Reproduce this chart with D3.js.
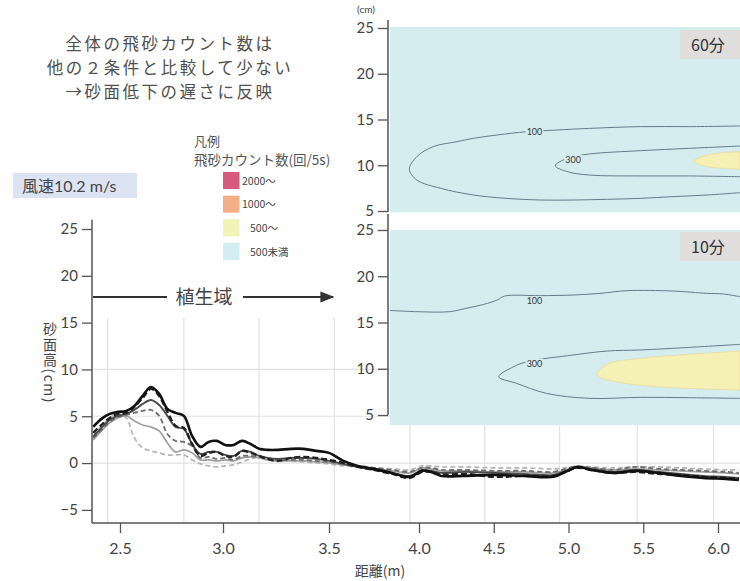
<!DOCTYPE html>
<html><head><meta charset="utf-8">
<script src="https://cdn.jsdelivr.net/npm/d3@7"></script>
<style>
body{margin:0;background:#fff}
svg{display:block}
text{font-family:Lato,"Noto Sans CJK JP",sans-serif}
.cjk{font-family:"Noto Sans CJK JP",sans-serif}
</style></head><body>
<svg id="c" width="740" height="581"></svg>
<script>
// ---------- DATA ----------
const distance = [2.37,2.41,2.45,2.49,2.53,2.57,2.61,2.65,2.69,2.73,2.77,2.81,2.85,2.89,2.93,2.97,3.01,3.05,3.09,3.13,3.17,3.21,3.26,3.32,3.38,3.44,3.50,3.58,3.66,3.75,3.85,3.95,4.02,4.08,4.15,4.30,4.50,4.70,4.90,4.98,5.06,5.15,5.30,5.45,5.60,5.75,5.90,6.05,6.14];
const profileA = [3.87,4.72,5.25,5.47,5.57,6.11,7.17,8.13,7.39,5.79,5.36,5.04,2.90,1.73,2.26,2.37,1.94,1.94,2.37,2.04,1.52,1.41,1.41,1.52,1.52,1.30,1.09,0.23,-0.30,-0.62,-1.05,-1.47,-0.83,-0.94,-1.37,-1.37,-1.26,-1.37,-1.47,-0.94,-0.41,-0.73,-1.05,-0.83,-1.05,-1.37,-1.58,-1.69,-1.79];
const profileB = [3.22,4.07,4.82,5.25,5.36,6.00,6.96,7.92,7.17,5.47,3.97,3.75,2.04,0.77,1.09,1.19,0.77,0.66,1.30,1.09,0.77,0.45,0.23,0.55,0.66,0.55,0.34,0.02,-0.41,-0.73,-1.15,-1.58,-0.94,-0.94,-1.26,-1.15,-1.47,-1.37,-1.37,-0.94,-0.51,-0.73,-1.05,-0.94,-1.15,-1.26,-1.47,-1.58,-1.69];
const profileC = [2.80,3.75,4.61,5.04,5.25,5.68,6.32,6.74,6.21,5.04,3.86,3.65,2.04,0.98,1.19,1.19,0.87,0.77,1.30,1.19,0.77,0.55,0.45,0.55,0.55,0.45,0.23,-0.09,-0.41,-0.73,-1.05,-1.37,-0.73,-0.83,-1.05,-0.94,-1.05,-1.15,-1.26,-0.83,-0.41,-0.62,-0.94,-0.73,-0.94,-1.15,-1.37,-1.47,-1.58];
const profileD = [2.69,3.54,4.40,4.93,5.14,5.36,5.57,5.68,5.04,3.11,2.37,2.26,1.83,0.55,0.66,0.45,0.55,0.34,0.76,0.76,0.66,0.45,0.34,0.34,0.34,0.23,0.13,-0.09,-0.30,-0.51,-0.73,-0.94,-0.51,-0.51,-0.73,-0.73,-0.83,-0.83,-0.94,-0.62,-0.41,-0.51,-0.73,-0.41,-0.62,-0.73,-0.83,-0.94,-1.05];
const profileE = [2.47,3.44,4.29,4.82,5.04,4.50,4.07,3.86,3.44,2.15,1.19,1.41,1.09,0.34,0.34,0.23,0.34,0.23,0.55,0.66,0.55,0.34,0.23,0.23,0.23,0.13,0.02,-0.20,-0.41,-0.62,-0.83,-1.05,-0.51,-0.62,-0.83,-0.83,-0.94,-0.94,-1.05,-0.73,-0.41,-0.51,-0.73,-0.62,-0.73,-0.83,-0.94,-1.05,-1.15];
const profileF = [2.90,3.97,4.82,5.25,4.82,2.69,1.62,1.30,1.09,0.87,0.87,0.87,0.34,-0.09,-0.30,-0.41,-0.30,-0.20,0.13,0.45,0.66,0.55,0.34,0.23,0.13,0.02,-0.09,-0.30,-0.41,-0.51,-0.62,-0.73,-0.30,-0.30,-0.41,-0.41,-0.51,-0.51,-0.62,-0.51,-0.30,-0.41,-0.51,-0.41,-0.41,-0.51,-0.62,-0.73,-0.73];

const xTicks = [2.5,3.0,3.5,4.0,4.5,5.0,5.5,6.0];
const yTicks = [-5,0,5,10,15,20,25];
const gridX = [2.44,2.81,3.17,3.53,3.95,4.44,4.94,5.46,5.97];
const gridY = [0,5,10];
const insetTicks = [5,10,15,20,25];

// contour lines of sand count (distance m, height cm)
const top100 = [[6.20,14.29],[5.86,14.22],[5.53,14.22],[5.19,14.03],[4.97,13.85],[4.77,13.67],[4.57,13.31],[4.41,12.94],[4.30,12.58],[4.14,12.03],[4.03,10.94],[3.98,9.55],[4.03,8.39],[4.19,7.48],[4.41,6.75],[4.63,6.38],[4.86,6.20],[5.08,6.20],[5.31,6.28],[5.53,6.38],[5.75,6.57],[5.98,6.75],[6.20,7.00]];
const top300 = [[6.20,12.10],[5.86,11.85],[5.53,11.59],[5.19,11.23],[5.04,10.76],[4.96,9.95],[5.04,9.30],[5.19,8.93],[5.53,8.83],[5.86,8.83],[6.20,8.75]];
const top500 = [[6.20,11.48],[6.09,11.38],[5.98,11.12],[5.89,10.46],[5.98,9.85],[6.09,9.66],[6.20,9.55]];
const bot100 = [[3.80,16.35],[4.03,16.17],[4.25,16.17],[4.36,16.53],[4.48,16.96],[4.57,17.43],[4.62,17.86],[4.86,17.90],[5.08,17.97],[5.26,18.15],[5.44,18.44],[5.75,18.40],[5.98,18.15],[6.09,18.08],[6.20,17.79]];
const bot300 = [[6.20,12.64],[5.86,12.31],[5.53,12.03],[5.31,11.92],[5.08,11.49],[4.77,10.76],[4.68,10.22],[4.58,9.14],[4.70,8.42],[4.90,7.34],[5.19,6.80],[5.53,6.91],[5.86,6.87],[6.20,6.80]];
const bot500 = [[6.20,11.92],[5.86,11.56],[5.53,11.12],[5.31,10.51],[5.24,9.32],[5.37,8.60],[5.64,8.06],[6.20,7.70]];
const topLabels = [{m:4.82,cm:13.62,t:"100"},{m:5.08,cm:10.62,t:"300"}];
const botLabels = [{m:4.82,cm:17.3,t:"100"},{m:4.82,cm:10.55,t:"300"}];

const legendLabels = ["2000〜","1000〜","500〜","500未満"];
const legendColors = ["#d75a7e","#f3b087","#f0f4b6","#d3eef2"];

// ---------- SCALES ----------
const svg = d3.select("#c");
const x = d3.scaleLinear().domain([2.5,3.0,3.5,4.0,6.0]).range([120,223,329,419,718]);
const y = d3.scaleLinear().domain([-6.4,25]).range([523,229]);
const xi = d3.scaleLinear().domain([3.85,6.2]).range([390,740]);
const yTop = d3.scaleLinear().domain([5,25]).range([211,28]);
const yBot = d3.scaleLinear().domain([5,25]).range([415,230]);

// ---------- MAIN CHART ----------
const gGrid = svg.append("g");
gGrid.selectAll("line.gx").data(gridX).join("line")
  .attr("x1",d=>x(d)).attr("x2",d=>x(d)).attr("y1",y(15.5)).attr("y2",y(-6.4))
  .attr("stroke","#e2e2e2").attr("stroke-width",1.2);
gGrid.selectAll("line.gy").data(gridY).join("line")
  .attr("x1",x(2.37)).attr("x2",740).attr("y1",d=>y(d)).attr("y2",d=>y(d))
  .attr("stroke","#e2e2e2").attr("stroke-width",1.2);

const series = [
  {v:profileF, c:"#b4b4b4", w:1.7, dash:"5,3"},
  {v:profileE, c:"#a0a0a0", w:1.7, dash:null},
  {v:profileD, c:"#6e6e6e", w:1.9, dash:"5,3"},
  {v:profileC, c:"#4a4a4a", w:1.9, dash:null},
  {v:profileB, c:"#222", w:2.4, dash:"6,3"},
  {v:profileA, c:"#111", w:2.6, dash:null}
];
const line = d3.line().x((d,i)=>x(distance[i])).y(d=>y(d)).curve(d3.curveCatmullRom);
svg.append("g").selectAll("path").data(series).join("path")
  .attr("d",d=>line(d.v)).attr("fill","none").attr("stroke",d=>d.c)
  .attr("stroke-width",d=>d.w).attr("stroke-dasharray",d=>d.dash)
  .attr("stroke-linejoin","round");

function styleAxis(g){
  g.select(".domain").remove();
  g.selectAll(".tick line").attr("stroke","#555").attr("stroke-width",1.3);
  g.selectAll(".tick text").attr("fill","#444").style("font-size","15px").style("font-family","Lato,sans-serif");
}
const gx = svg.append("g").attr("transform",`translate(0,${y(-6.4)})`)
  .call(d3.axisBottom(x).tickValues(xTicks).tickFormat(d3.format(".1f")).tickSize(10).tickPadding(10));
styleAxis(gx);
gx.selectAll(".tick text").style("font-size","16px");
svg.append("line").attr("x1",92).attr("x2",740).attr("y1",y(-6.4)).attr("y2",y(-6.4)).attr("stroke","#555").attr("stroke-width",1.5);

const gy = svg.append("g").attr("transform","translate(92,0)")
  .call(d3.axisLeft(y).tickValues(yTicks).tickSize(10).tickPadding(4));
styleAxis(gy);
svg.append("line").attr("x1",92).attr("x2",92).attr("y1",y(26)).attr("y2",y(-6.4)).attr("stroke","#555").attr("stroke-width",1.5);

svg.append("text").attr("class","cjk").attr("x",380).attr("y",576).attr("text-anchor","middle")
  .attr("fill","#444").style("font-size","14px").text("距離(m)");
svg.append("text").attr("class","cjk").attr("x",50).attr("y",322)
  .style("writing-mode","vertical-rl").style("font-size","14px").style("letter-spacing","1.5px")
  .attr("fill","#444").text("砂面高(cm)");

// vegetation arrow
svg.append("defs").append("marker").attr("id","ah").attr("viewBox","0 0 10 10").attr("refX",9).attr("refY",5)
  .attr("markerWidth",7).attr("markerHeight",7).attr("orient","auto")
  .append("path").attr("d","M0,1 L10,5 L0,9 z").attr("fill","#333");
svg.append("line").attr("x1",93).attr("x2",167).attr("y1",297).attr("y2",297).attr("stroke","#333").attr("stroke-width",2);
svg.append("line").attr("x1",243).attr("x2",333).attr("y1",297).attr("y2",297).attr("stroke","#333").attr("stroke-width",2).attr("marker-end","url(#ah)");
svg.append("text").attr("class","cjk").attr("x",204).attr("y",304).attr("text-anchor","middle").attr("fill","#444").style("font-size","19px").text("植生域");

// ---------- INSETS ----------
const defs = svg.select("defs");
function inset(ys, ext, c100, c300, c500, labels, title, boxY, axisTop, axisBot, clipId){
  defs.append("clipPath").attr("id",clipId).append("rect")
    .attr("x",390).attr("y",ys(ext[1])).attr("width",350).attr("height",ys(ext[0])-ys(ext[1]));
  const g = svg.append("g");
  g.append("rect").attr("x",390).attr("y",ys(ext[1])).attr("width",350).attr("height",ys(ext[0])-ys(ext[1])).attr("fill","#d6edf0");
  const gc = g.append("g").attr("clip-path",`url(#${clipId})`);
  const l = d3.line().x(d=>xi(d[0])).y(d=>ys(d[1])).curve(d3.curveCatmullRom);
  gc.append("path").attr("d",l(c500)+"Z").attr("fill","#f5f0b3").attr("stroke","#e4dca0").attr("stroke-width",0.8);
  gc.append("path").attr("d",l(c300)).attr("fill","none").attr("stroke","#647b8a").attr("stroke-width",1);
  gc.append("path").attr("d",l(c100)).attr("fill","none").attr("stroke","#647b8a").attr("stroke-width",1);
  const lg = gc.selectAll("g.lab").data(labels).join("g").attr("transform",d=>`translate(${xi(d.m)},${ys(d.cm)})`);
  lg.append("rect").attr("x",-9).attr("y",-5).attr("width",18).attr("height",10).attr("fill","#d6edf0");
  lg.append("text").attr("text-anchor","middle").attr("dy","0.35em").attr("fill","#333").style("font-size","9px").text(d=>d.t);
  g.append("rect").attr("x",680).attr("y",boxY).attr("width",60).attr("height",29).attr("fill","#e0dddd");
  g.append("text").attr("class","cjk").attr("x",708).attr("y",boxY+21).attr("text-anchor","middle").attr("fill","#333").style("font-size","16px").text(title);
  const ga = svg.append("g").attr("transform","translate(388,0)")
    .call(d3.axisLeft(ys).tickValues(insetTicks).tickSize(10).tickPadding(4));
  styleAxis(ga);
  svg.append("line").attr("x1",388).attr("x2",388).attr("y1",axisTop).attr("y2",axisBot).attr("stroke","#555").attr("stroke-width",1.5);
}
inset(yTop,[4.85,25.1],top100,top300,top500,topLabels,"60分",30,20,212,"clipTop");
inset(yBot,[3.9,25.0],bot100,bot300,bot500,botLabels,"10分",232,214,415,"clipBot");
svg.append("text").attr("x",366).attr("y",13).attr("text-anchor","middle").attr("fill","#444").style("font-size","10px").text("(cm)");

// ---------- ANNOTATIONS ----------
const notes = ["全体の飛砂カウント数は","他の２条件と比較して少ない","→砂面低下の遅さに反映"];
svg.append("g").selectAll("text").data(notes).join("text").attr("class","cjk")
  .attr("x",170).attr("y",(d,i)=>50+i*24).attr("text-anchor","middle")
  .attr("fill","#505050").style("font-size","16.5px").style("letter-spacing","2.5px").text(d=>d);

svg.append("rect").attr("x",13).attr("y",173).attr("width",124).attr("height",25).attr("fill","#dce3f2");
const ws = svg.append("text").attr("x",22).attr("y",192).attr("fill","#444").style("font-size","16px");
ws.append("tspan").attr("class","cjk").text("風速");
ws.append("tspan").text("10.2 m/s");

svg.append("text").attr("class","cjk").attr("x",194).attr("y",146).attr("fill","#555").style("font-size","13px").text("凡例");
svg.append("text").attr("class","cjk").attr("x",194).attr("y",165).attr("fill","#555").style("font-size","13.5px").text("飛砂カウント数(回/5s)");
const lgY = d3.scalePoint().domain(legendLabels).range([172,243]);
const leg = svg.append("g").selectAll("g").data(legendLabels).join("g").attr("transform",d=>`translate(223,${lgY(d)})`);
leg.append("rect").attr("width",16.5).attr("height",17).attr("fill",(d,i)=>legendColors[i]);
leg.append("text").attr("class","cjk").attr("x",(d,i)=>i<2?19:27).attr("y",12.5).attr("fill","#444").style("font-size","10.5px").text(d=>d);
</script>
</body></html>
